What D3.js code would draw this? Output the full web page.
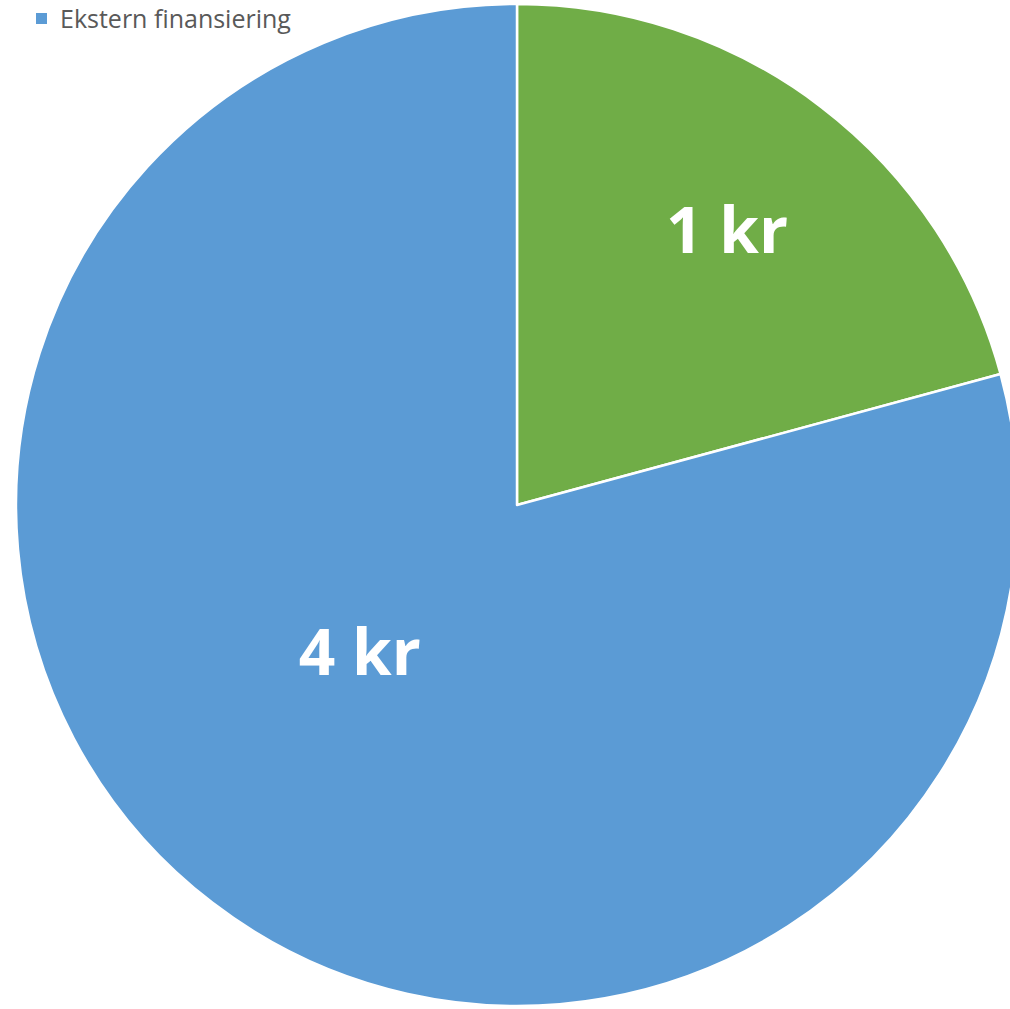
<!DOCTYPE html>
<html>
<head>
<meta charset="utf-8">
<script src="https://cdn.jsdelivr.net/npm/d3@7"></script>
<style>
  body { margin: 0; background: #fff; }
  svg { display: block; }
</style>
</head>
<body>
<div id="chart-area"></div>
<script>
// data
var categories = ["Egenkapital", "Ekstern finansiering"];
var values = [1.05, 4.0];
var valueLabels = ["1 kr", "4 kr"];
var colors = ["#70AD47", "#5B9BD5"];
var legendItems = ["Ekstern finansiering"];

var width = 1010;
var height = 1009;
var cx = 517, cy = 505, radius = 501;

var svg = d3.select("#chart-area").append("svg")
    .attr("width", width)
    .attr("height", height);

var g = svg.append("g")
    .attr("transform", "translate(" + cx + ", " + cy + ")");

var pie = d3.pie().sort(null).value((d) => d);
var arcs = pie(values);

var arc = d3.arc().innerRadius(0).outerRadius(radius);

g.selectAll("path.slice")
  .data(arcs)
  .enter()
  .append("path")
    .attr("class", "slice")
    .attr("d", arc)
    .attr("fill", (d, i) => colors[i])
    .attr("stroke", "#fff")
    .attr("stroke-width", 2.5)
    .attr("stroke-linejoin", "round");

// label radius per slice (fraction of radius), Excel-like placement
var labelR = [0.69, 0.43];
var labelShift = [0, 0.165];   // angle tweak, radians

g.selectAll("text.lbl")
  .data(arcs)
  .enter()
  .append("text")
    .attr("class", "lbl")
    .attr("x", (d, i) => {
      var a = (d.startAngle + d.endAngle) / 2 + labelShift[i];
      return Math.sin(a) * radius * labelR[i];
    })
    .attr("y", (d, i) => {
      var a = (d.startAngle + d.endAngle) / 2 + labelShift[i];
      return -Math.cos(a) * radius * labelR[i];
    })
    .attr("dy", "0.35em")
    .attr("text-anchor", "middle")
    .attr("font-family", "'Open Sans', sans-serif")
    .attr("font-weight", "bold")
    .attr("font-size", "64px")
    .attr("fill", "#fff")
    .text((d, i) => valueLabels[i]);

// legend
var legend = svg.append("g").attr("transform", "translate(36, 0)");
legend.selectAll("rect")
  .data(legendItems)
  .enter()
  .append("rect")
    .attr("x", 0)
    .attr("y", 13)
    .attr("width", 11)
    .attr("height", 11)
    .attr("fill", colors[1]);
legend.selectAll("text")
  .data(legendItems)
  .enter()
  .append("text")
    .attr("x", 24)
    .attr("y", 28)
    .attr("font-family", "'Open Sans', sans-serif")
    .attr("font-size", "25px")
    .attr("fill", "#595959")
    .text((d) => d);
</script>
</body>
</html>
